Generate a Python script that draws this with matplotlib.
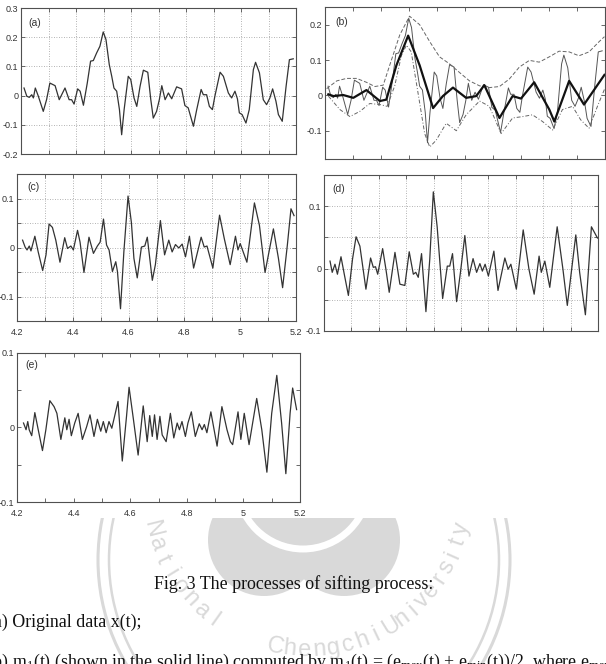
import numpy as np
import matplotlib
matplotlib.use("Agg")
import matplotlib.pyplot as plt
from matplotlib.patches import Circle, Rectangle
from matplotlib.ticker import MultipleLocator, FuncFormatter

plt.rcParams['axes.unicode_minus'] = False
plt.rcParams['mathtext.fontset'] = 'custom'
plt.rcParams['mathtext.rm'] = 'Liberation Serif'
plt.rcParams['mathtext.it'] = 'Liberation Serif:italic'

# ---------------- data ----------------
# (a) original data x(t)
xa_t = [4.211, 4.221, 4.230, 4.239, 4.245, 4.252, 4.263, 4.281, 4.293, 4.305, 4.324, 4.339,
        4.360, 4.375, 4.384, 4.393, 4.406, 4.415, 4.427, 4.441, 4.453, 4.463, 4.475, 4.487,
        4.499, 4.509, 4.521, 4.530, 4.538, 4.548, 4.558, 4.566, 4.575, 4.590, 4.599, 4.611,
        4.621, 4.633, 4.645, 4.661, 4.672, 4.681, 4.693, 4.703, 4.712, 4.724, 4.736, 4.748,
        4.766, 4.784, 4.796, 4.808, 4.827, 4.839, 4.855, 4.863, 4.875, 4.885, 4.896, 4.905,
        4.924, 4.936, 4.954, 4.966, 4.978, 4.987, 4.994, 5.004, 5.018, 5.030, 5.045, 5.053,
        5.067, 5.081, 5.093, 5.105, 5.115, 5.127, 5.136, 5.150, 5.164, 5.176, 5.190]
xa_v = [0.026, -0.002, -0.006, 0.003, -0.008, 0.026, -0.002, -0.054, -0.014, 0.043, 0.034, -0.014,
        0.026, -0.014, -0.014, -0.029, 0.023, 0.015, -0.033, 0.043, 0.118, 0.120, 0.146, 0.169,
        0.218, 0.192, 0.106, 0.066, 0.026, 0.015, -0.048, -0.134, -0.048, 0.066, 0.055, -0.008,
        -0.037, 0.032, 0.087, 0.080, -0.014, -0.077, -0.054, -0.014, 0.034, -0.014, 0.009, -0.011,
        0.030, 0.023, -0.034, -0.042, -0.105, -0.048, 0.021, 0.003, 0.003, -0.037, -0.048, -0.002,
        0.080, 0.066, 0.009, -0.008, 0.015, -0.011, -0.059, -0.065, -0.094, -0.048, 0.089, 0.114,
        0.078, -0.014, -0.031, -0.008, 0.023, -0.019, -0.065, -0.088, 0.032, 0.123, 0.126]

# (b) upper envelope, lower envelope, mean m1(t)
ub_t = [4.206, 4.242, 4.277, 4.313, 4.348, 4.378, 4.408, 4.431, 4.467, 4.502, 4.538, 4.574,
        4.609, 4.645, 4.680, 4.716, 4.752, 4.787, 4.823, 4.858, 4.894, 4.930, 4.965, 5.001,
        5.036, 5.072, 5.107, 5.143, 5.179, 5.198]
ub_v = [0.019, 0.041, 0.048, 0.048, 0.037, 0.025, 0.029, 0.085, 0.171, 0.224, 0.200, 0.152,
        0.109, 0.089, 0.065, 0.041, 0.027, 0.022, 0.025, 0.046, 0.080, 0.099, 0.094, 0.109,
        0.125, 0.123, 0.112, 0.123, 0.152, 0.166]
lb_t = [4.212, 4.253, 4.289, 4.325, 4.360, 4.396, 4.422, 4.449, 4.473, 4.491, 4.508, 4.532,
        4.556, 4.574, 4.597, 4.633, 4.669, 4.704, 4.752, 4.787, 4.829, 4.870, 4.906, 4.941,
        4.977, 5.013, 5.048, 5.084, 5.113, 5.143, 5.173, 5.198]
lb_v = [-0.002, -0.040, -0.060, -0.045, -0.023, -0.026, -0.031, 0.027, 0.113, 0.142, 0.123, 0.008,
        -0.108, -0.146, -0.127, -0.079, -0.100, -0.055, -0.016, -0.031, -0.108, -0.064, -0.060, -0.055,
        -0.074, -0.098, -0.040, -0.031, -0.069, -0.093, -0.031, 0.017]
mb_t = [4.212, 4.230, 4.265, 4.301, 4.348, 4.396, 4.419, 4.455, 4.497, 4.538, 4.586, 4.621,
        4.657, 4.704, 4.740, 4.769, 4.823, 4.870, 4.900, 4.947, 5.001, 5.019, 5.072, 5.125, 5.198]
mb_v = [0.003, -0.002, 0.001, -0.007, 0.015, -0.016, -0.012, 0.085, 0.169, 0.085, -0.036, -0.002,
        0.022, -0.007, -0.002, 0.029, -0.064, -0.002, -0.009, 0.037, -0.040, -0.074, 0.041, -0.026, 0.058]

# (c) h1(t)
c_t = [4.220, 4.229, 4.236, 4.244, 4.250, 4.264, 4.276, 4.292, 4.304, 4.315, 4.327, 4.339,
       4.354, 4.371, 4.381, 4.393, 4.402, 4.417, 4.426, 4.440, 4.458, 4.474, 4.488, 4.498,
       4.510, 4.521, 4.530, 4.542, 4.554, 4.560, 4.571, 4.583, 4.598, 4.610, 4.619, 4.631,
       4.646, 4.658, 4.667, 4.685, 4.696, 4.714, 4.729, 4.744, 4.756, 4.768, 4.780, 4.792,
       4.804, 4.818, 4.833, 4.860, 4.871, 4.881, 4.902, 4.926, 4.943, 4.964, 4.983, 4.992,
       5.000, 5.024, 5.051, 5.069, 5.089, 5.119, 5.137, 5.152, 5.169, 5.182, 5.193]
c_v = [0.015, 0.001, -0.005, 0.003, -0.007, 0.023, -0.009, -0.047, -0.015, 0.048, 0.041, 0.015,
       -0.030, 0.020, -0.002, 0.003, -0.005, 0.035, 0.011, -0.051, 0.021, -0.012, 0.003, 0.011,
       0.058, 0.005, -0.005, -0.049, -0.029, -0.049, -0.125, -0.009, 0.105, 0.051, -0.022, -0.062,
       0.001, 0.003, 0.021, -0.067, -0.035, 0.055, -0.015, 0.015, -0.009, 0.006, -0.001, 0.007,
       -0.019, 0.023, -0.042, 0.021, 0.001, 0.003, -0.042, 0.066, 0.018, -0.035, 0.023, -0.005,
       0.008, -0.030, 0.091, 0.045, -0.051, 0.038, -0.022, -0.082, 0.005, 0.079, 0.065]

# (d)
d_t = [4.222, 4.230, 4.240, 4.249, 4.262, 4.274, 4.289, 4.304, 4.317, 4.331, 4.353, 4.370,
       4.380, 4.388, 4.396, 4.414, 4.426, 4.438, 4.459, 4.477, 4.495, 4.511, 4.526, 4.535,
       4.544, 4.556, 4.572, 4.586, 4.599, 4.613, 4.633, 4.650, 4.659, 4.669, 4.684, 4.698,
       4.714, 4.729, 4.744, 4.757, 4.769, 4.778, 4.788, 4.800, 4.820, 4.835, 4.860, 4.872,
       4.882, 4.902, 4.927, 4.948, 4.967, 4.985, 4.993, 5.006, 5.024, 5.051, 5.072, 5.088,
       5.119, 5.133, 5.154, 5.176, 5.198]
d_v = [0.012, -0.006, 0.007, -0.009, 0.019, -0.009, -0.043, 0.015, 0.051, 0.036, -0.033, 0.017,
       0.002, 0.003, -0.009, 0.032, -0.001, -0.038, 0.026, -0.025, -0.027, 0.027, -0.009, -0.006,
       -0.014, 0.024, -0.069, 0.015, 0.123, 0.067, -0.048, 0.004, 0.004, 0.024, -0.053, -0.006,
       0.053, -0.012, 0.016, -0.006, 0.008, -0.004, 0.007, -0.012, 0.028, -0.035, 0.017, -0.001,
       0.007, -0.033, 0.062, -0.001, -0.041, 0.020, -0.006, 0.012, -0.030, 0.067, -0.001, -0.059,
       0.054, -0.006, -0.074, 0.067, 0.049]

# (e)
e_t = [4.223, 4.232, 4.238, 4.243, 4.252, 4.263, 4.275, 4.290, 4.302, 4.316, 4.331, 4.341,
       4.355, 4.369, 4.376, 4.384, 4.392, 4.404, 4.416, 4.431, 4.446, 4.458, 4.472, 4.484,
       4.496, 4.505, 4.515, 4.525, 4.535, 4.543, 4.557, 4.572, 4.587, 4.596, 4.611, 4.628,
       4.646, 4.660, 4.669, 4.678, 4.686, 4.695, 4.705, 4.713, 4.727, 4.742, 4.754, 4.766,
       4.774, 4.783, 4.795, 4.804, 4.816, 4.830, 4.844, 4.854, 4.862, 4.871, 4.885, 4.907,
       4.924, 4.942, 4.954, 4.962, 4.981, 4.991, 5.003, 5.020, 5.047, 5.065, 5.083, 5.100,
       5.118, 5.135, 5.150, 5.165, 5.174, 5.188]
e_v = [0.006, -0.003, 0.008, -0.003, -0.011, 0.020, -0.003, -0.031, -0.003, 0.036, 0.028, 0.019,
       -0.016, 0.013, -0.003, 0.011, -0.011, 0.006, 0.019, -0.016, 0.001, 0.017, -0.012, 0.011,
       -0.005, 0.008, -0.007, 0.008, -0.001, 0.012, 0.035, -0.045, 0.015, 0.054, 0.012, -0.037,
       0.029, -0.019, 0.016, -0.012, 0.017, -0.016, 0.015, -0.010, -0.019, 0.019, -0.014, 0.006,
       -0.003, 0.008, -0.012, 0.006, 0.021, -0.012, 0.005, -0.003, 0.004, -0.007, 0.021, -0.025,
       0.028, -0.003, -0.019, -0.023, 0.021, -0.016, 0.019, -0.023, 0.039, -0.003, -0.060, 0.019,
       0.070, 0.006, -0.062, 0.019, 0.053, 0.024]

panel_labels = ['(a)', '(b)', '(c)', '(d)', '(e)']
x_tick_labels = ['4.2', '4.4', '4.6', '4.8', '5', '5.2']

caption_title = 'Fig. 3 The processes of sifting process:'
caption_a = '(a) Original data x(t);'
caption_b = ('(b) m$_1$(t) (shown in the solid line) computed by m$_1$(t) = '
             '(e$_{\\mathrm{max}}$(t) + e$_{\\mathrm{min}}$(t))/2, where e$_{\\mathrm{max}}$(t)')

# ---------------- figure ----------------
W, H = 606, 664
fig = plt.figure(figsize=(W / 100, H / 100), dpi=100)
fig.patch.set_facecolor('white')

# watermark (page decoration), visible only below the figure image
wm = fig.add_axes([0, 0, 1, 1], zorder=0)
wm.set_xlim(0, W)
wm.set_ylim(H, 0)
wm.axis('off')
clip = Rectangle((0, 518), W, H - 518, transform=wm.transData, fill=False, lw=0)
wmc = '#d9d9d9'
arts = []
for r, lw in [(206, 2.2), (195, 1.8)]:
    arts.append(wm.add_patch(Circle((304, 560), r, fill=False, ec=wmc, lw=lw)))
arts.append(wm.add_patch(Circle((264, 540), 56, fc=wmc, ec='none')))
arts.append(wm.add_patch(Circle((344, 540), 56, fc=wmc, ec='none')))
arts.append(wm.add_patch(Circle((303, 483), 66, fill=False, ec='white', lw=5)))
cx, cy, rr = 307, 490, 160
words = [('National', 194.0, 5.8), ('Chengchi', 258.5, 5.3), ('University', 301.6, 4.93)]
for word, a0, step in words:
    for i, ch in enumerate(word):
        a = a0 + step * i
        th = np.deg2rad(a)
        t = wm.text(cx + rr * np.cos(th), cy - rr * np.sin(th), ch, rotation=a + 90,
                    ha='center', va='center', fontsize=17, color=wmc,
                    family='Liberation Sans', rotation_mode='anchor')
        arts.append(t)
for a in arts:
    a.set_clip_path(clip)

def rect(l, t, r, b):
    return [l / W, 1 - b / H, (r - l) / W, (b - t) / H]

line_c = '#333333'
spine_c = '#505050'

def make_ax(px, ylim, ystep, ylab_step, grid, xlabels, label, lpos):
    ax = fig.add_axes(rect(*px), zorder=2)
    ax.set_facecolor('white')
    ax.set_xlim(4.2, 5.2)
    ax.set_ylim(*ylim)
    ax.xaxis.set_major_locator(MultipleLocator(0.1))
    ax.yaxis.set_major_locator(MultipleLocator(ystep))

    def xfmt(v, pos):
        if not xlabels:
            return ''
        k = int(round((v - 4.2) / 0.1))
        if k % 2 == 0 and 0 <= k <= 10:
            return x_tick_labels[k // 2]
        return ''

    def yfmt(v, pos):
        k = int(round(v / ylab_step * 1000))
        if k % 1000 != 0:
            return ''
        val = round(v, 3)
        if abs(val) < 1e-9:
            return '0'
        return ('%g' % val)

    ax.xaxis.set_major_formatter(FuncFormatter(xfmt))
    ax.yaxis.set_major_formatter(FuncFormatter(yfmt))
    ax.tick_params(direction='in', length=3, width=0.6, top=True, right=True,
                   labelsize=6.5, colors=spine_c, labelcolor='#333333', pad=2)
    ax.tick_params(axis='x', pad=5)
    for s in ax.spines.values():
        s.set_color(spine_c)
        s.set_linewidth(0.8)
    if grid:
        ax.grid(True, ls=(0, (1, 2)), color='#9a9a9a', lw=0.6)
    ax.text(lpos[0], lpos[1], label, transform=ax.transAxes, fontsize=7.5,
            color='#333333', ha='left', va='center', family='Liberation Sans')
    for lab in ax.get_xticklabels() + ax.get_yticklabels():
        lab.set_family('Liberation Sans')
    return ax

kw = dict(color=line_c, lw=0.9, solid_joinstyle='round')

axA = make_ax((21, 8, 296, 154), (-0.2, 0.3), 0.1, 0.1, True, False, panel_labels[0], (0.025, 0.9))
axA.plot(xa_t, xa_v, **kw)

axB = make_ax((325, 7, 605, 159), (-0.18, 0.25), 0.1, 0.1, False, False, panel_labels[1], (0.036, 0.9))
axB.plot(xa_t, xa_v, color='#555555', lw=0.7, solid_joinstyle='round')
axB.plot(ub_t, ub_v, color='#666666', lw=0.7, ls=(0, (4, 2)))
axB.plot(lb_t, lb_v, color='#666666', lw=0.7, ls=(0, (4, 2, 1, 2)))
axB.plot(mb_t, mb_v, color='#111111', lw=1.6, solid_joinstyle='round')

axC = make_ax((17, 174, 296, 321), (-0.15, 0.15), 0.05, 0.1, True, True, panel_labels[2], (0.036, 0.91))
axC.plot(c_t, c_v, **kw)

axD = make_ax((324, 175, 598, 331), (-0.1, 0.15), 0.05, 0.1, True, False, panel_labels[3], (0.03, 0.91))
axD.plot(d_t, d_v, **kw)

axE = make_ax((17, 353, 300, 502), (-0.1, 0.1), 0.05, 0.1, False, True, panel_labels[4], (0.03, 0.92))
axE.plot(e_t, e_v, **kw)

# caption text
serif = 'Liberation Serif'
fs = 12.9
fig.text(294 / W, 1 - 589 / H, caption_title, ha='center', va='baseline',
         fontsize=fs, family=serif, color='#111111')
fig.text(-12 / W, 1 - 627 / H, caption_a, ha='left', va='baseline',
         fontsize=fs, family=serif, color='#111111')
fig.text(-13 / W, 1 - 667 / H, caption_b, ha='left', va='baseline',
         fontsize=fs, family=serif, color='#111111')

fig.savefig('out.png', dpi=100)
